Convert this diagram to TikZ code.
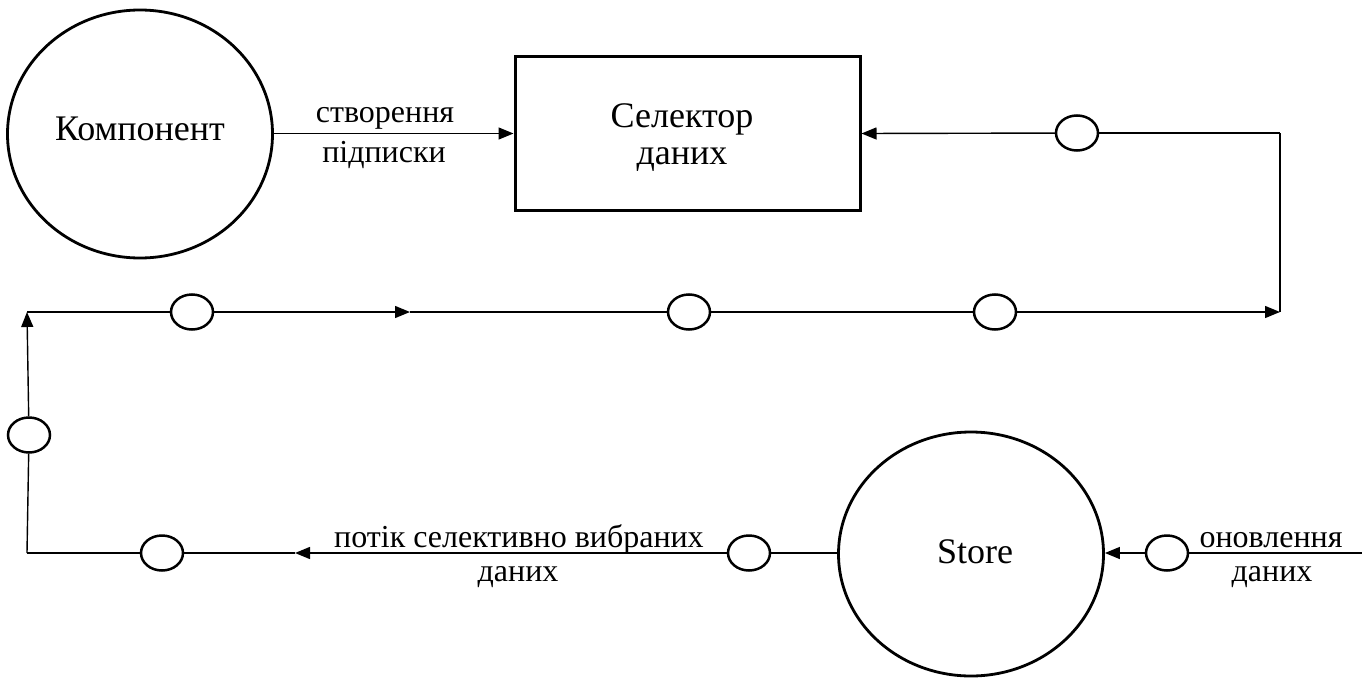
\documentclass[tikz,border=0pt]{standalone}
\usepackage{fontspec}
\setmainfont{Liberation Serif}
\usetikzlibrary{arrows.meta,shapes.geometric}
\begin{document}
\begin{tikzpicture}[x=1pt,y=-1pt,
  line/.style={line width=1.4pt, draw=black},
  flow/.style={line, -{Triangle[length=15pt,width=12pt]}},
  bubble/.style={draw, ellipse, line width=2.8pt, minimum width=265pt,
    inner sep=0pt},
  procbox/.style={draw, rectangle, line width=3pt, minimum width=345pt,
    minimum height=153pt, inner sep=0pt},
  port/.style={draw, ellipse, line width=2.5pt, fill=white,
    minimum width=42pt, minimum height=35pt, inner sep=0pt},
  title/.style={anchor=base, inner sep=0pt, font=\fontsize{36}{40}\selectfont},
  lbl/.style={anchor=base, inner sep=0pt, font=\fontsize{32}{36}\selectfont}]
\useasboundingbox (0,0) rectangle (1362,677);

% main elements
\node[bubble, minimum height=248pt] (komp) at (140,134) {};
\node[title] (kompt) at (140,140) {Компонент};
\node[procbox] (sel) at (687.5,133.5) {};
\node[title] (selt1) at (682,127) {Селектор};
\node[title] (selt2) at (682,164) {даних};
\node[bubble, minimum height=244pt] (store) at (971,554) {};
\node[title] (storet) at (975,563) {Store};

% small ports
\node[port] (t1) at (1077,133) {};
\node[port] (m1) at (192,312) {};
\node[port] (m2) at (689,312) {};
\node[port] (m3) at (995,312) {};
\node[port] (l1) at (29,435) {};
\node[port] (b1) at (162,553) {};
\node[port] (b2) at (749,553) {};
\node[port] (r1) at (1167,553) {};

% corners and free ends
\coordinate (tr) at (1280,133);
\coordinate (br) at (1280,312);
\coordinate (tl) at (27,312);
\coordinate (bl) at (27,553);
\coordinate (mid) at (410,312);
\coordinate (bm) at (295,553);
\coordinate (rin) at (1362,553);

% connectors
\draw[flow] (komp.east |- sel.west) -- (sel.west);
\draw[line] (tr) -- (t1);
\draw[flow] (t1) -- (sel.east);
\draw[line] (br) -- (tr);
\draw[line] (tl) -- (m1);
\draw[flow] (m1) -- (mid);
\draw[line] (mid) -- (m2);
\draw[line] (m2) -- (m3);
\draw[flow] (m3) -- (br);
\draw[line] (bl) -- (l1);
\draw[flow] (l1) -- (tl);
\draw[line] (store.west |- b2) -- (b2);
\draw[flow] (b2) -- (bm);
\draw[line] (bm) -- (b1);
\draw[line] (b1) -- (bl);
\draw[line] (rin) -- (r1);
\draw[flow] (r1) -- (store.east |- r1);

% connector labels
\node[lbl] (la1) at (385,122) {створення};
\node[lbl] (la2) at (384,162) {підписки};
\node[lbl] (lb1) at (519,547) {потік селективно вибраних};
\node[lbl] (lb2) at (518,581) {даних};
\node[lbl] (lc1) at (1271,547) {оновлення};
\node[lbl] (lc2) at (1272,581) {даних};
\end{tikzpicture}
\end{document}
